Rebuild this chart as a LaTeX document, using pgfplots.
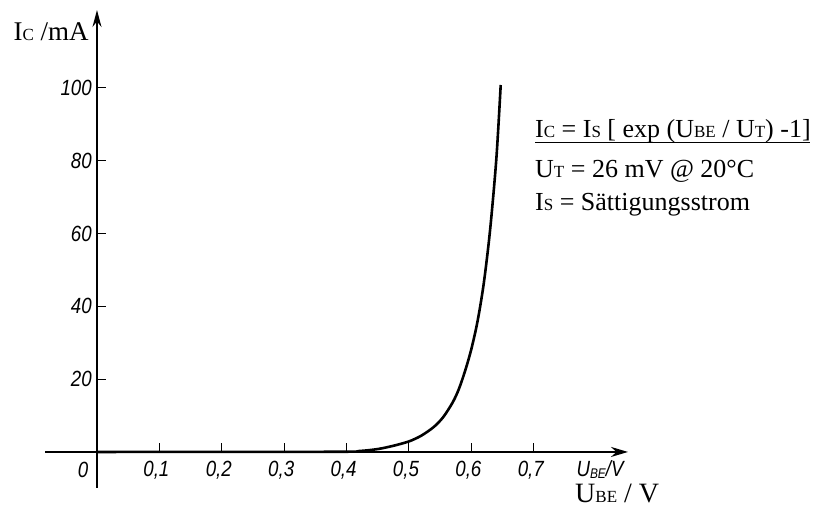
\documentclass[border=0pt]{standalone}
\usepackage{fontspec}
\setmainfont{Liberation Serif}
\newfontfamily\tickfont[FakeStretch=0.85]{Liberation Sans}
\usepackage{pgfplots}
\pgfplotsset{compat=1.18}
\usetikzlibrary{arrows.meta}

\newcommand\sub[1]{{\fontsize{17}{17}\selectfont #1}}
\newcommand\tf{\tickfont\itshape\fontsize{22}{22}\selectfont}

\begin{document}
\begin{tikzpicture}[x=1pt,y=1pt]
\path[use as bounding box] (0,0) rectangle (814,508);
\begin{axis}[
  at={(45pt,20pt)}, anchor=south west,
  scale only axis, width=583pt, height=478pt,
  xmin=-0.0833, xmax=0.851, ymin=-9.9, ymax=121.4,
  axis lines=middle, clip=false,
  x axis line style={line width=2.2pt, -{Stealth[length=17pt,width=10pt]}},
  y axis line style={line width=1.5pt, -{Stealth[length=17pt,width=9pt]}},
  xtick={0.1,0.2,0.3,0.4,0.5,0.6,0.7},
  xticklabels={{0,1},{0,2},{0,3},{0,4},{0,5},{0,6},{0,7}},
  ytick={20,40,60,80,100},
  tick style={line width=1pt, black},
  major tick length=9pt,
  tick align=inside,
  /pgf/number format/assume math mode=true,
  ticklabel style={font=\tf},
  xticklabel style={anchor=center, yshift=-18pt, xshift=-3pt},
  yticklabel style={anchor=east, inner sep=0pt, xshift=-5pt},
]
% Ic in mA over UBE in V
\addplot[line width=2.6pt, smooth, tension=0.5] coordinates {
  (0,0) (0.38,0.05) (0.42,0.25) (0.45,0.8) (0.475,1.7) (0.50,2.9)
  (0.52,4.5) (0.54,6.9) (0.555,9.6) (0.57,13.6) (0.58,17.3) (0.59,22.3)
  (0.60,28.3) (0.61,36.0) (0.62,46.5) (0.63,61) (0.64,80.5) (0.647,100.8)};
\node[font=\tf, anchor=center] at (axis cs:-0.0224,0) [yshift=-18pt] {0};
\end{axis}
\node[anchor=west, font=\fontsize{27}{27}\selectfont] at (10,476) {I\sub{C} /mA};
\node[anchor=west, font=\tf] at (573,38) {U\raisebox{-2pt}{\fontsize{14}{14}\selectfont BE}/V};
\node[anchor=west, inner sep=0pt, font=\fontsize{28}{28}\selectfont] at (575,15) {U\sub{BE} / V};
\begin{scope}[every node/.style={anchor=base west, inner sep=0pt, font=\fontsize{26}{26}\selectfont}]
\node at (535,370) {I\sub{C} = I\sub{S} [ exp (U\sub{BE} / U\sub{T}) -1]};
\node at (535,330) {U\sub{T} = 26 mV @ 20°C};
\node at (535,297) {I\sub{S} = Sättigungsstrom};
\end{scope}
\draw[line width=0.9pt] (535,366) -- (810,366);
\end{tikzpicture}
\end{document}
